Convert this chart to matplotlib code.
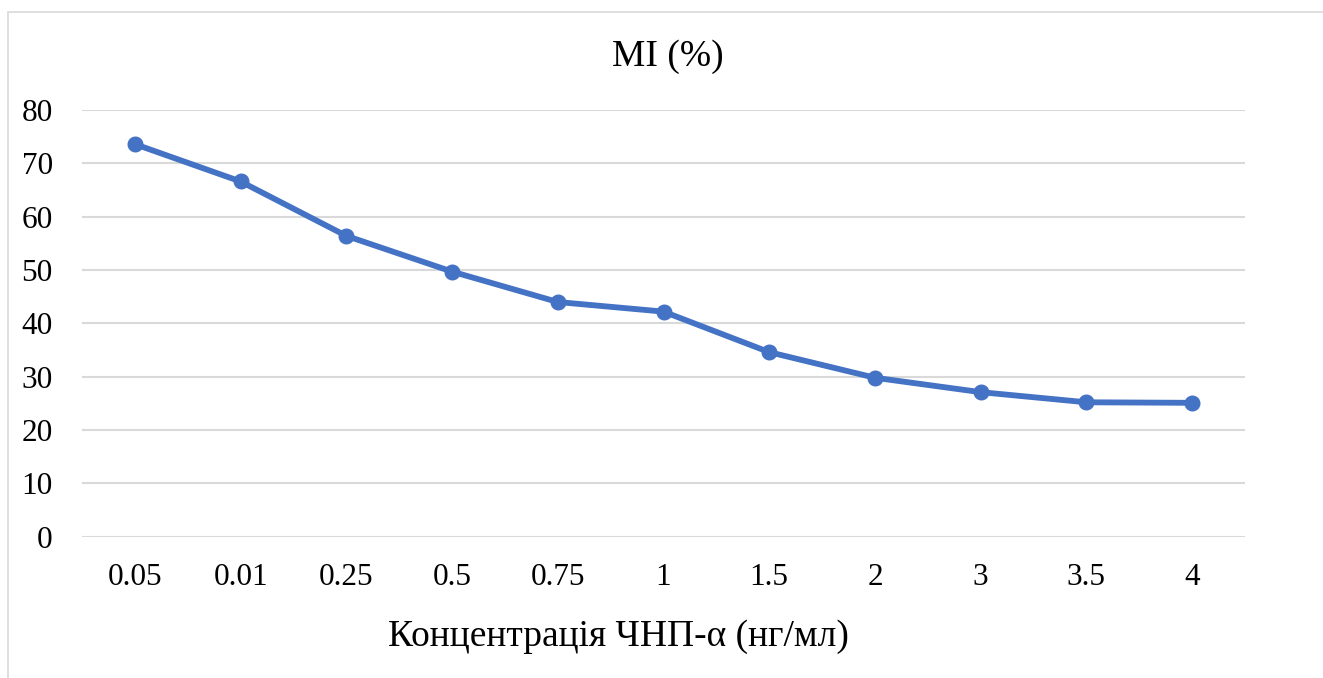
import matplotlib
matplotlib.use("Agg")
import matplotlib.pyplot as plt
from matplotlib.patches import Rectangle

# Data
concentrations = ["0.05", "0.01", "0.25", "0.5", "0.75", "1", "1.5", "2", "3", "3.5", "4"]
mi_percent = [73.6, 66.6, 56.4, 49.7, 44.0, 42.2, 34.6, 29.8, 27.1, 25.2, 25.1]
y_ticks = [0, 10, 20, 30, 40, 50, 60, 70, 80]

title_text = "MI (%)"
xlabel_text = "Концентрація ЧНП-α (нг/мл)"

W, H = 1323, 678
plt.rcParams["font.family"] = ["Liberation Serif", "DejaVu Serif"]

fig = plt.figure(figsize=(W / 100, H / 100), dpi=100)
fig.patch.set_facecolor("white")

# Chart-area frame (runs off the right and bottom edges)
fig.patches.append(Rectangle((8 / W, -0.05), 1.2, 1 - 11.5 / H + 0.05,
                             transform=fig.transFigure, fill=False,
                             edgecolor="#D9D9D9", linewidth=1.2))

ax = fig.add_axes([82 / W, 1 - 536.7 / H, (1245 - 82) / W, (536.7 - 110) / H])
x = list(range(len(concentrations)))
ax.plot(x, mi_percent, color="#4472C4", linewidth=4.2, marker="o",
        markersize=10.5, solid_capstyle="round", zorder=3)

ax.set_xlim(-0.5, len(concentrations) - 0.5)
ax.set_ylim(0, 80)
ax.set_yticks(y_ticks)
ax.set_xticks(x)
ax.set_xticklabels(concentrations)
ax.yaxis.grid(True, color="#D9D9D9", linewidth=1.5)
ax.set_axisbelow(True)
for s in ax.spines.values():
    s.set_visible(False)
ax.tick_params(axis="both", length=0, labelsize=22.5, colors="black")
ax.tick_params(axis="y", pad=21)
ax.tick_params(axis="x", pad=19)

fig.text(668 / W, 1 - 57 / H, title_text, ha="center", va="center", fontsize=27)
fig.text(618 / W, 1 - 637 / H, xlabel_text, ha="center", va="center", fontsize=27)

fig.savefig("out.png", dpi=100, facecolor="white")
